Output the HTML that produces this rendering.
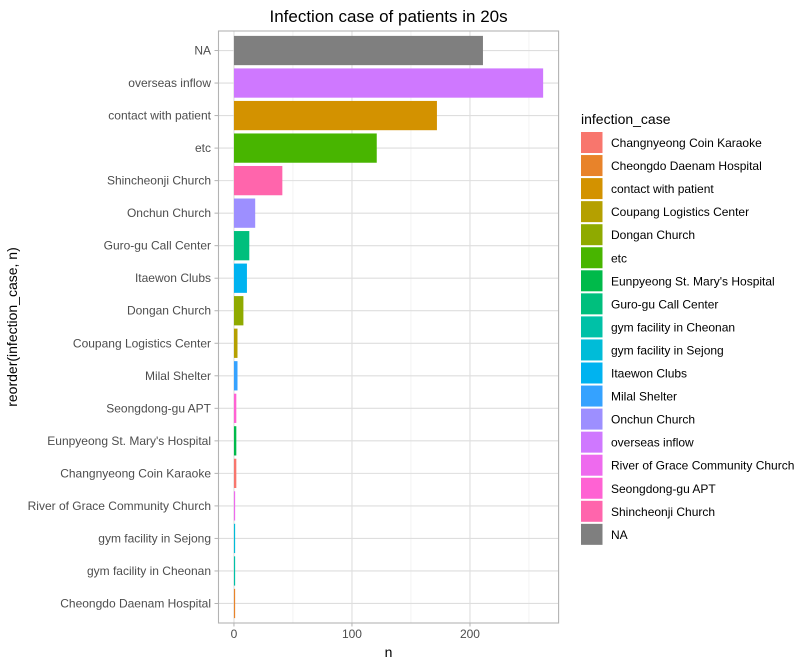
<!DOCTYPE html>
<html><head><meta charset="utf-8"><style>
body{margin:0;background:#fff;}
svg{display:block;font-family:"Liberation Sans",Arial,sans-serif;}
</style></head><body>
<svg id="c" width="812" height="668" xmlns="http://www.w3.org/2000/svg"></svg>
<script>
const categories=["NA","overseas inflow","contact with patient","etc","Shincheonji Church","Onchun Church","Guro-gu Call Center","Itaewon Clubs","Dongan Church","Coupang Logistics Center","Milal Shelter","Seongdong-gu APT","Eunpyeong St. Mary's Hospital","Changnyeong Coin Karaoke","River of Grace Community Church","gym facility in Sejong","gym facility in Cheonan","Cheongdo Daenam Hospital"];
const values=[211,262,172,121,41,18,13,11,8,3,3,2,2,2,1,1,1,1];
const legendLabels=["Changnyeong Coin Karaoke","Cheongdo Daenam Hospital","contact with patient","Coupang Logistics Center","Dongan Church","etc","Eunpyeong St. Mary's Hospital","Guro-gu Call Center","gym facility in Cheonan","gym facility in Sejong","Itaewon Clubs","Milal Shelter","Onchun Church","overseas inflow","River of Grace Community Church","Seongdong-gu APT","Shincheonji Church","NA"];
const legendColors=["#F8766D","#E8832A","#D39200","#B5A000","#8FAA00","#48B500","#00BA4A","#00BF7D","#00C1A7","#00BCD8","#00B3F0","#35A2FF","#9D8FFF","#CF78FF","#EE6AEE","#FF62D3","#FF65AC","#7F7F7F"];
const xTicks=[0,100,200];
const xMinor=[50,150,250];

const NS="http://www.w3.org/2000/svg";
const svg=document.getElementById('c');
function mk(t,a,p){const e=document.createElementNS(NS,t);for(const k in a)e.setAttribute(k,a[k]);(p||svg).appendChild(e);return e;}
const L=218.5,R=558.6,T=31,B=623;
const xmin=-13.1,xmax=275.1;
const x=v=>L+(v-xmin)/(xmax-xmin)*(R-L);
const n=categories.length;
const step=(B-T)/(n+0.2);
const y=i=>T+step*(0.6+i);
const colorOf=c=>legendColors[legendLabels.indexOf(c)];

let e=mk('rect',{x:L,y:T,width:R-L,height:B-T,fill:'#fff'});

xMinor.forEach(v=>{const g=mk('line',{x1:x(v),x2:x(v),y1:T,y2:B,stroke:'#ebebeb','stroke-width':0.6});});
xTicks.forEach(v=>{const g=mk('line',{x1:x(v),x2:x(v),y1:T,y2:B,stroke:'#dedede','stroke-width':1.1});});
categories.forEach((c,i)=>{const g=mk('line',{x1:L,x2:R,y1:y(i),y2:y(i),stroke:'#dedede','stroke-width':1.1});});
categories.forEach((c,i)=>{
  const h=step*0.9;
  const b=mk('rect',{x:x(0),y:y(i)-h/2,width:x(values[i])-x(0),height:h,fill:colorOf(c)});
  
  
  const t=mk('text',{x:211,y:y(i)+4,'text-anchor':'end','font-size':12,fill:'#4d4d4d'});t.textContent=c;
  
  const tk=mk('line',{x1:214.5,x2:L,y1:y(i),y2:y(i),stroke:'#b3b3b3','stroke-width':1});
  
});
e=mk('rect',{x:L,y:T,width:R-L,height:B-T,fill:'none',stroke:'#b3b3b3','stroke-width':1.1});

xTicks.forEach(v=>{
  const tk=mk('line',{x1:x(v),x2:x(v),y1:B,y2:B+3.5,stroke:'#b3b3b3','stroke-width':1});
  
  const t=mk('text',{x:x(v),y:B+15,'text-anchor':'middle','font-size':12,fill:'#4d4d4d'});t.textContent=v;
  
});
e=mk('text',{x:(L+R)/2,y:657,'text-anchor':'middle','font-size':14,fill:'#000'});e.textContent='n';

e=mk('text',{x:0,y:0,transform:'translate(17,'+((T+B)/2)+') rotate(-90)','text-anchor':'middle','font-size':14,fill:'#000'});e.textContent='reorder(infection_case, n)';

e=mk('text',{x:(L+R)/2,y:22,'text-anchor':'middle','font-size':17,fill:'#000'});e.textContent='Infection case of patients in 20s';

e=mk('text',{x:581,y:124,'font-size':14,fill:'#000'});e.textContent='infection_case';

legendLabels.forEach((c,i)=>{
  const yy=131.5+i*23.05;
  const r=mk('rect',{x:580.5,y:yy,width:22.5,height:22,fill:legendColors[i],stroke:'#fff','stroke-width':1});
  
  const t=mk('text',{x:611,y:yy+15.5,'font-size':12,fill:'#000'});t.textContent=c;
  
});
</script>
</body></html>
